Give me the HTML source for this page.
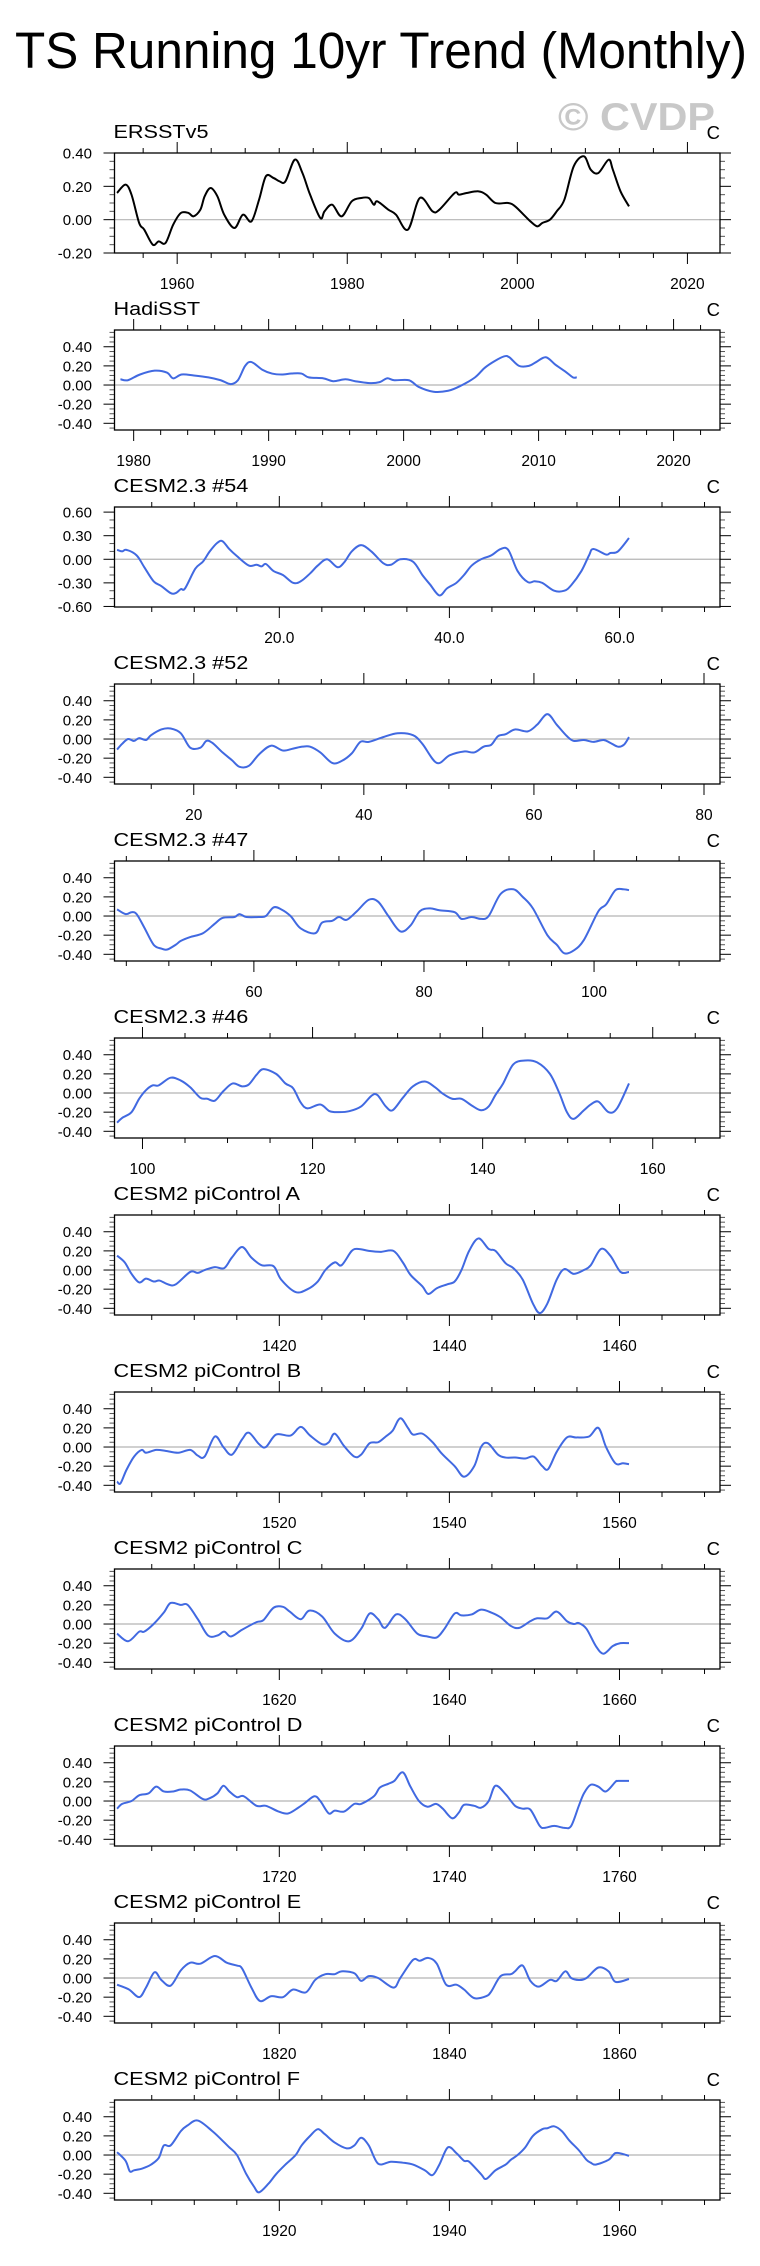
<!DOCTYPE html>
<html><head><meta charset="utf-8"><style>
html,body{margin:0;padding:0;background:#fff;}
svg{display:block;font-family:"Liberation Sans",sans-serif;}
</style></head><body>
<svg id="fig" width="760" height="2266" viewBox="0 0 760 2266" xmlns="http://www.w3.org/2000/svg">
<rect x="0" y="0" width="760" height="2266" fill="#fff"/>
<text id="title" x="15" y="68" font-size="51" fill="#000" textLength="732" lengthAdjust="spacingAndGlyphs">TS Running 10yr Trend (Monthly)</text>
<text x="558" y="130" font-size="39" font-weight="bold" fill="#c8c8c8" textLength="157" lengthAdjust="spacingAndGlyphs">© CVDP</text>
</svg>
<script>
// ---- data (years offset from series start, trend values in C) ----
const ersstT=[0,1.0,1.7,2.6,3.2,4.2,4.9,5.7,6.6,7.5,8.4,9.0,9.8,10.3,11.0,11.8,12.6,13.8,14.8,15.8,16.7,17.5,18.4,19.1,19.8,20.9,21.8,22.7,23.9,24.4,25.3,26.4,27.6,28.7,29.6,30.2,30.6,31.9,32.8,34.2,35.6,37.1,37.9,39.7,40.2,41.1,42.5,43.4,44.5,46.0,46.8,48.0,48.6,49.4,50.0,50.9,51.7,52.6,53.7,54.9,55.7,56.6,57.8,58.3,59.2,60.2];
const ersstV=[0.16,0.21,0.15,-0.02,-0.06,-0.15,-0.13,-0.14,-0.03,0.04,0.04,0.02,0.06,0.14,0.19,0.14,0.03,-0.05,0.03,-0.01,0.12,0.26,0.25,0.23,0.23,0.36,0.28,0.15,0.01,0.05,0.09,0.02,0.11,0.13,0.13,0.09,0.11,0.06,0.03,-0.06,0.13,0.05,0.06,0.16,0.15,0.16,0.17,0.15,0.1,0.1,0.08,0.02,-0.01,-0.04,-0.02,0.0,0.05,0.12,0.32,0.38,0.3,0.28,0.36,0.3,0.17,0.08];
const hadiT=[0.02,0.57,1.47,2.56,3.46,3.93,4.55,5.46,6.54,7.45,8.17,8.72,9.26,9.73,10.53,11.25,11.98,12.7,13.43,13.97,15.06,15.78,16.69,17.41,18.5,19.22,19.77,20.31,21.4,22.12,23.21,24.3,25.2,26.29,27.01,27.74,28.46,28.83,29.55,30.28,30.82,31.54,32.27,32.99,33.54,33.83];
const hadiV=[0.06,0.05,0.11,0.15,0.13,0.07,0.11,0.1,0.08,0.05,0.01,0.05,0.2,0.24,0.16,0.12,0.11,0.12,0.12,0.08,0.07,0.04,0.06,0.04,0.02,0.03,0.07,0.05,0.05,-0.02,-0.07,-0.06,-0.01,0.08,0.18,0.25,0.3,0.29,0.2,0.2,0.24,0.29,0.21,0.14,0.08,0.08];
const c54T=[0,0.6,1.1,2.3,3.2,4.3,5.2,6.3,6.9,7.5,8.0,9.2,10.1,10.9,11.8,12.4,13.2,14.1,15.5,16.4,17.0,17.5,18.4,19.5,20.7,21.6,22.7,23.6,24.7,25.9,26.7,27.6,28.7,29.9,31.3,32.2,33.3,34.8,35.9,36.8,37.9,38.8,39.9,40.8,41.7,42.8,44.0,45.1,46.0,47.1,48.3,49.1,50.0,51.4,52.6,53.4,54.6,55.5,56.0,57.5,58.0,58.9,60.2];
const c54V=[0.12,0.1,0.12,0.05,-0.1,-0.28,-0.34,-0.43,-0.43,-0.38,-0.37,-0.12,-0.03,0.1,0.21,0.23,0.13,0.04,-0.08,-0.07,-0.09,-0.06,-0.15,-0.2,-0.3,-0.28,-0.18,-0.08,0.0,-0.1,-0.04,0.1,0.18,0.1,-0.05,-0.07,0.0,-0.03,-0.2,-0.32,-0.46,-0.37,-0.3,-0.2,-0.08,0.0,0.05,0.13,0.12,-0.15,-0.29,-0.28,-0.3,-0.4,-0.4,-0.33,-0.15,0.05,0.13,0.06,0.08,0.1,0.27];
const c52T=[0,0.6,1.3,2.0,2.6,3.4,4.0,5.2,6.3,7.5,8.6,9.8,10.5,11.2,12.4,13.5,14.4,15.5,16.7,18.1,19.5,20.7,21.8,22.7,23.9,25.3,26.4,27.6,28.6,29.6,31.3,33.0,34.8,35.9,37.6,39.1,40.8,42.0,43.1,44.0,44.8,45.7,46.8,48.3,49.4,50.6,51.7,52.9,53.7,54.9,56.0,57.2,58.0,58.9,59.6,60.2];
const c52V=[-0.11,-0.05,0.0,-0.02,0.01,-0.01,0.04,0.1,0.11,0.06,-0.09,-0.09,-0.02,-0.04,-0.14,-0.22,-0.29,-0.28,-0.16,-0.07,-0.12,-0.1,-0.08,-0.08,-0.14,-0.25,-0.23,-0.15,-0.03,-0.03,0.02,0.06,0.04,-0.05,-0.25,-0.17,-0.13,-0.14,-0.08,-0.06,0.03,0.05,0.1,0.08,0.15,0.26,0.15,0.03,-0.02,-0.01,-0.03,-0.01,-0.04,-0.08,-0.06,0.02];
const c47T=[0,1.0,1.7,2.3,3.2,4.3,5.2,5.9,6.9,7.5,8.6,10.1,11.5,12.4,13.8,14.4,15.2,16.7,17.5,18.4,19.3,20.4,21.6,23.3,24.1,25.3,26.1,27.0,28.2,29.6,30.7,31.9,33.3,34.5,35.6,36.8,37.9,39.7,40.5,41.7,42.8,43.7,45.1,46.6,47.7,48.9,50.6,51.7,52.6,53.7,54.9,56.6,57.5,58.6,59.5,60.2];
const c47V=[0.07,0.02,0.04,0.02,-0.12,-0.3,-0.34,-0.35,-0.3,-0.26,-0.22,-0.18,-0.08,-0.02,-0.01,0.02,-0.01,-0.01,0.0,0.09,0.07,0.0,-0.13,-0.18,-0.07,-0.05,-0.01,-0.04,0.05,0.17,0.15,0.0,-0.16,-0.1,0.05,0.08,0.06,0.04,-0.03,-0.01,-0.03,0.0,0.23,0.28,0.2,0.08,-0.2,-0.3,-0.39,-0.36,-0.25,0.05,0.12,0.27,0.28,0.27];
const c46T=[0,0.6,1.7,2.6,3.4,4.2,4.9,6.3,7.5,8.6,9.8,10.6,11.5,12.5,13.6,14.7,15.5,16.4,17.2,18.7,19.8,20.7,21.6,22.4,23.9,25.0,26.1,27.3,28.7,29.9,30.6,31.6,32.4,33.6,34.8,36.2,37.4,38.2,39.4,40.5,41.7,42.8,43.7,44.5,45.4,46.6,48.0,49.4,50.9,52.0,52.9,53.7,54.9,55.7,56.6,57.8,58.8,60.2];
const c46V=[-0.31,-0.26,-0.2,-0.06,0.03,0.08,0.08,0.16,0.13,0.06,-0.05,-0.06,-0.08,0.02,0.1,0.07,0.09,0.19,0.25,0.2,0.1,0.05,-0.1,-0.16,-0.12,-0.19,-0.2,-0.19,-0.14,-0.03,-0.02,-0.14,-0.18,-0.05,0.07,0.12,0.06,0.0,-0.06,-0.06,-0.13,-0.18,-0.14,-0.02,0.1,0.3,0.34,0.32,0.2,0.0,-0.2,-0.27,-0.18,-0.12,-0.09,-0.2,-0.16,0.1];
const piAT=[0,0.9,1.7,2.6,3.4,4.3,5.0,6.0,6.9,8.6,9.5,10.3,11.5,12.6,13.5,14.7,15.8,17.0,18.4,19.3,21.0,22.4,23.6,24.5,25.6,26.4,27.6,28.4,29.6,31.0,32.5,33.6,34.5,35.9,36.6,37.6,38.8,39.7,40.5,41.4,42.5,43.7,44.5,45.7,46.6,47.7,48.9,49.7,50.6,51.7,52.6,53.7,54.9,55.7,56.9,58.0,59.2,60.2];
const piAV=[0.15,0.08,-0.04,-0.13,-0.09,-0.12,-0.11,-0.15,-0.15,-0.02,-0.03,0.0,0.03,0.02,0.13,0.24,0.13,0.05,0.04,-0.1,-0.23,-0.2,-0.12,0.0,0.08,0.05,0.2,0.22,0.2,0.19,0.2,0.08,-0.05,-0.17,-0.25,-0.19,-0.15,-0.12,0.0,0.2,0.33,0.22,0.2,0.07,0.02,-0.1,-0.35,-0.45,-0.35,-0.1,0.01,-0.04,0.0,0.05,0.22,0.15,-0.02,-0.02];
const piBT=[0,0.4,1.1,2.0,2.9,3.4,4.6,5.7,7.2,8.6,9.5,10.3,11.5,12.5,13.5,14.7,15.5,16.7,17.5,18.7,20.4,21.6,22.7,24.1,24.9,25.6,26.7,27.9,28.7,29.7,30.7,31.6,32.4,33.3,34.2,34.8,35.9,37.1,38.2,39.7,40.8,42.0,42.8,43.6,44.8,45.7,46.8,48.0,49.0,50.0,50.7,51.7,52.9,54.0,55.5,56.6,57.5,58.6,59.5,60.2];
const piBV=[-0.36,-0.38,-0.24,-0.1,-0.03,-0.06,-0.03,-0.04,-0.06,-0.03,-0.09,-0.1,0.11,0.0,-0.08,0.08,0.15,0.03,0.0,0.13,0.12,0.21,0.12,0.03,0.05,0.14,0.01,-0.1,-0.08,0.04,0.05,0.11,0.17,0.3,0.2,0.13,0.14,0.05,-0.07,-0.2,-0.31,-0.2,0.0,0.04,-0.08,-0.11,-0.11,-0.12,-0.1,-0.2,-0.23,-0.05,0.1,0.1,0.11,0.2,0.0,-0.17,-0.17,-0.18];
const piCT=[0,1.3,2.6,3.2,4.3,5.5,6.3,7.5,8.3,9.5,10.7,11.8,12.6,13.4,14.7,16.4,17.2,18.4,19.5,20.3,21.6,22.6,24.1,25.6,27.3,28.7,29.7,30.7,31.5,32.8,33.9,35.3,36.5,37.6,38.5,39.7,40.5,41.7,42.8,44.0,45.1,46.3,47.3,48.6,49.4,50.6,51.7,52.9,53.7,54.3,55.2,56.3,57.2,58.3,59.2,60.2];
const piCV=[-0.1,-0.18,-0.08,-0.08,0.0,0.12,0.22,0.2,0.2,0.05,-0.12,-0.12,-0.08,-0.13,-0.06,0.02,0.04,0.17,0.18,0.13,0.05,0.14,0.08,-0.1,-0.18,-0.05,0.11,0.05,-0.04,0.1,0.05,-0.1,-0.13,-0.14,-0.05,0.11,0.09,0.1,0.15,0.12,0.07,-0.02,-0.04,0.03,0.06,0.06,0.13,0.03,0.0,0.01,-0.05,-0.23,-0.31,-0.23,-0.2,-0.2];
const piDT=[0,0.6,1.7,2.6,3.7,4.6,5.5,6.6,7.5,8.6,10.1,10.9,11.8,12.5,13.2,14.1,14.9,16.4,17.5,19.0,20.1,21.3,22.1,23.2,23.9,24.9,25.6,26.7,27.9,28.7,30.2,30.9,31.9,32.6,33.6,34.5,35.5,36.5,37.5,38.3,39.4,40.2,40.8,42.0,42.8,43.7,44.5,45.7,46.8,47.7,48.6,49.7,50.3,51.4,52.6,53.4,54.3,54.9,55.7,56.6,57.5,58.6,58.9,60.2];
const piDV=[-0.08,-0.03,0.0,0.06,0.08,0.15,0.1,0.1,0.12,0.11,0.02,0.03,0.08,0.16,0.1,0.04,0.05,-0.05,-0.05,-0.11,-0.13,-0.07,-0.02,0.05,0.0,-0.13,-0.1,-0.11,-0.03,-0.03,0.05,0.14,0.18,0.21,0.3,0.15,0.0,-0.06,-0.03,-0.08,-0.18,-0.12,-0.04,-0.05,-0.07,0.0,0.16,0.07,-0.05,-0.08,-0.09,-0.26,-0.28,-0.26,-0.28,-0.26,-0.05,0.08,0.17,0.15,0.1,0.2,0.21,0.21];
const piET=[0,1.4,2.6,3.4,4.4,5.2,6.3,7.5,8.6,9.8,11.5,12.9,14.1,14.7,15.8,16.8,18.1,19.5,20.7,22.2,23.3,24.5,25.6,26.4,27.9,28.7,29.6,30.7,32.5,33.3,34.8,35.6,36.6,37.6,38.7,39.9,40.8,42.0,43.4,44.0,45.1,46.3,46.8,47.7,48.6,49.6,50.9,51.7,52.7,53.4,54.3,55.2,56.6,57.8,58.6,60.2];
const piEV=[-0.07,-0.12,-0.2,-0.1,0.06,-0.02,-0.08,0.08,0.16,0.15,0.23,0.16,0.13,0.1,-0.1,-0.24,-0.19,-0.2,-0.12,-0.15,-0.02,0.04,0.04,0.07,0.05,-0.03,0.02,0.0,-0.1,0.0,0.19,0.18,0.21,0.15,-0.07,-0.07,-0.12,-0.21,-0.19,-0.14,0.02,0.04,0.07,0.13,-0.03,-0.09,-0.02,-0.03,0.07,0.0,-0.02,0.0,0.11,0.07,-0.04,-0.01];
const piFT=[0,1.0,1.5,2.0,3.0,4.0,4.9,5.5,6.3,7.5,8.3,9.5,11.2,12.4,13.2,14.1,15.2,16.1,16.7,17.8,18.7,19.8,21.0,21.7,22.7,23.6,24.4,25.6,27.0,27.9,28.7,29.6,30.7,32.2,33.6,34.8,36.2,37.1,37.9,38.9,39.9,40.8,41.4,42.8,43.4,44.5,45.7,46.3,47.1,48.0,48.9,50.0,50.6,51.4,52.3,53.2,54.3,55.2,55.7,56.3,57.8,58.6,59.5,60.2];
const piFV=[0.03,-0.06,-0.17,-0.16,-0.14,-0.1,-0.03,0.1,0.1,0.25,0.31,0.36,0.25,0.15,0.08,0.0,-0.2,-0.33,-0.39,-0.3,-0.2,-0.1,0.0,0.1,0.2,0.27,0.22,0.13,0.07,0.1,0.18,0.1,-0.09,-0.07,-0.08,-0.1,-0.16,-0.21,-0.1,0.08,0.02,-0.06,-0.07,-0.2,-0.25,-0.16,-0.1,-0.05,0.0,0.08,0.2,0.27,0.28,0.3,0.25,0.15,0.05,-0.05,-0.08,-0.1,-0.05,0.02,0.01,-0.01];
const panelNames=["ERSSTv5","HadiSST","CESM2.3 #54","CESM2.3 #52","CESM2.3 #47","CESM2.3 #46","CESM2 piControl A","CESM2 piControl B","CESM2 piControl C","CESM2 piControl D","CESM2 piControl E","CESM2 piControl F"];
const panelStarts=[1952.93,1979,0.92,10.98,43.91,97.01,1400.92,1500.92,1600.92,1700.92,1800.92,1900.92];
const seriesT=[ersstT,hadiT,c54T,c52T,c47T,c46T,piAT,piBT,piCT,piDT,piET,piFT];
const seriesV=[ersstV,hadiV,c54V,c52V,c47V,c46V,piAV,piBV,piCV,piDV,piEV,piFV];

// ---- axis settings ----
const yRanges=[[-0.2,0.4],[-0.47,0.575],[-0.607,0.665],[-0.47,0.575],[-0.47,0.575],[-0.47,0.575],[-0.47,0.575],[-0.47,0.575],[-0.47,0.575],[-0.47,0.575],[-0.47,0.575],[-0.47,0.575]];
const yMajor=[0.2,0.2,0.3,0.2,0.2,0.2,0.2,0.2,0.2,0.2,0.2,0.2];
const yMinor=[0.05,0.05,0.1,0.05,0.05,0.05,0.05,0.05,0.05,0.05,0.05,0.05];
const xMajor=[20,10,20,20,20,20,20,20,20,20,20,20];
const xMinorStep=[4,2,5,5,5,5,5,5,5,5,5,5];
const xDecimals=[0,0,1,0,0,0,0,0,0,0,0,0];

const NS="http://www.w3.org/2000/svg";
const svg=document.getElementById('fig');
const PL=114.5,PW=605.5,PH=100,TOP0=153,GAP=177;
function mk(tag,attrs,parent){const e=document.createElementNS(NS,tag);for(const k in attrs)e.setAttribute(k,attrs[k]);(parent||svg).appendChild(e);return e;}
function stretch(t,f){const w=t.getComputedTextLength();t.setAttribute('textLength',(w*f).toFixed(1));t.setAttribute('lengthAdjust','spacingAndGlyphs');}
function smoothPath(pts){let d='M'+pts[0][0].toFixed(2)+','+pts[0][1].toFixed(2);
 for(let i=0;i<pts.length-1;i++){const p0=pts[i-1]||pts[i],p1=pts[i],p2=pts[i+1],p3=pts[i+2]||p2;
  const c1=[p1[0]+(p2[0]-p0[0])/6,p1[1]+(p2[1]-p0[1])/6],c2=[p2[0]-(p3[0]-p1[0])/6,p2[1]-(p3[1]-p1[1])/6];
  d+='C'+c1[0].toFixed(2)+','+c1[1].toFixed(2)+' '+c2[0].toFixed(2)+','+c2[1].toFixed(2)+' '+p2[0].toFixed(2)+','+p2[1].toFixed(2);}
 return d;}

for(let i=0;i<12;i++){
 const top=TOP0+GAP*i, bot=top+PH;
 const start=panelStarts[i];
 let xmin,xmax;
 if(i===1){xmin=1978.58;xmax=2023.44;} else {xmin=start-0.3;xmax=xmin+71.2;}
 const [ymin,ymax]=yRanges[i];
 const sx=v=>PL+(v-xmin)/(xmax-xmin)*PW;
 const sy=v=>bot-(v-ymin)/(ymax-ymin)*PH;
 const g=mk('g',{});
 
 
 const lab=mk('text',{x:PL-1,y:top-15,'font-size':18.5,fill:'#000'},g);
 lab.textContent=panelNames[i];
 
 
 stretch(lab,1.17);
 const un=mk('text',{x:720,y:top-14,'font-size':18.5,fill:'#000','text-anchor':'end'},g);
 un.textContent='C';
 
 
 // zero line
 const zl=mk('line',{x1:PL,x2:PL+PW,y1:sy(0),y2:sy(0),stroke:'#b4b4b4','stroke-width':1.2},g);
 
 
 // y ticks
 const yt=mk('g',{stroke:'#000','stroke-width':1},g);
 
 
 for(let v=Math.ceil(ymin/yMinor[i]-1e-6)*yMinor[i];v<=ymax+1e-9;v+=yMinor[i]){
  const y=sy(v);const isMaj=Math.abs(v/yMajor[i]-Math.round(v/yMajor[i]))<1e-6;
  const L=isMaj?11:5;
  mk('line',{x1:PL-L,x2:PL,y1:y,y2:y,stroke:isMaj?'#000':'#555'},yt);
  mk('line',{x1:PL+PW,x2:PL+PW+L,y1:y,y2:y,stroke:isMaj?'#000':'#555'},yt);
  if(isMaj){const t=mk('text',{x:92,y:y+5.5,'font-size':15,'text-anchor':'end',fill:'#000',stroke:'none'},g);
   t.textContent=(Math.abs(v)<1e-9?0:v).toFixed(2);
   
   }
 }
 // x ticks
 const xt=mk('g',{stroke:'#000','stroke-width':1},g);
 
 
 for(let v=Math.ceil(xmin/xMinorStep[i])*xMinorStep[i];v<=xmax;v+=xMinorStep[i]){
  const x=sx(v);const isMaj=Math.abs(v%xMajor[i])<1e-6;const L=isMaj?11:5;
  mk('line',{x1:x,x2:x,y1:top-L,y2:top},xt);
  mk('line',{x1:x,x2:x,y1:bot,y2:bot+L},xt);
  if(isMaj){const t=mk('text',{x:x,y:bot+36,'font-size':15.5,'text-anchor':'middle',fill:'#000',stroke:'none'},g);
   t.textContent=v.toFixed(xDecimals[i]);
   
   }
 }
 // series
 const pts=seriesT[i].map((t,j)=>[sx(start+t),sy(seriesV[i][j])]);
 const p=mk('path',{d:smoothPath(pts),fill:'none',stroke:i===0?'#000':'#4169e1','stroke-width':2,'stroke-linejoin':'round'},g);
 
 
 // frame
 const fr=mk('rect',{x:PL,y:top,width:PW,height:PH,fill:'none',stroke:'#000','stroke-width':1.3},g);
 
 
}
</script>
</body></html>
